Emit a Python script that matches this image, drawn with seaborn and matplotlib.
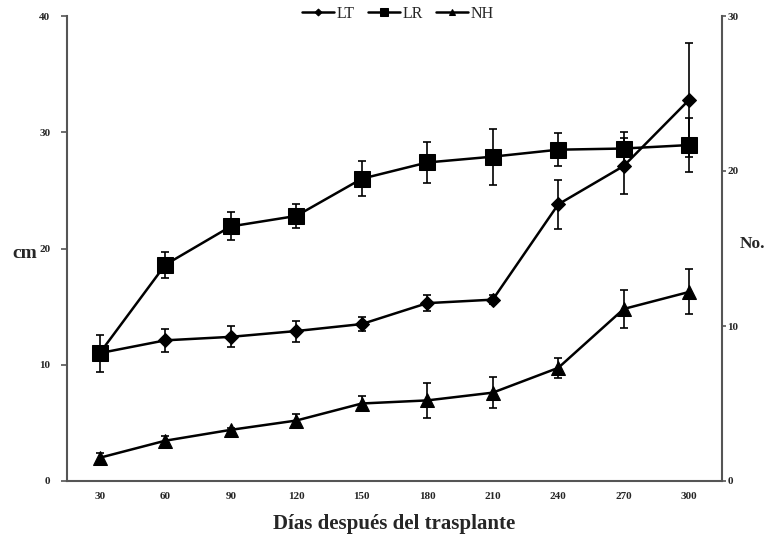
import numpy as np
import pandas as pd
import matplotlib
matplotlib.use("Agg")
import matplotlib.pyplot as plt
import seaborn as sns

days = ["30", "60", "90", "120", "150", "180", "210", "240", "270", "300"]
lt = [11.0, 12.1, 12.4, 12.9, 13.5, 15.3, 15.6, 23.8, 27.1, 32.8]
lt_err = [0.5, 1.0, 0.9, 0.9, 0.6, 0.7, 0.4, 2.1, 2.4, 4.9]
lr = [11.0, 18.6, 21.9, 22.8, 26.0, 27.4, 27.9, 28.5, 28.6, 28.9]
lr_err = [1.6, 1.1, 1.2, 1.0, 1.5, 1.8, 2.4, 1.4, 1.4, 2.3]
nh = [1.5, 2.6, 3.3, 3.9, 5.0, 5.2, 5.7, 7.3, 11.1, 12.2]
nh_err = [0.3, 0.3, 0.15, 0.45, 0.5, 1.15, 1.0, 0.65, 1.2, 1.45]

sns.set_style("white")
plt.rcParams["font.family"] = ["Liberation Serif", "DejaVu Serif"]

pos = np.arange(len(days))
df = pd.DataFrame({"pos": pos, "LT": lt, "LR": lr, "NH": nh})

fig = plt.figure(figsize=(7.74, 5.37), dpi=100)
ax = fig.add_axes([67/774, 1-481/537, (722-67)/774, (481-16)/537])
ax2 = ax.twinx()

lw = 1.8
sns.lineplot(data=df, x="pos", y="LT", ax=ax, color="black", marker="D",
             markersize=7, linewidth=lw, markeredgecolor="black", label="LT", legend=False)
sns.lineplot(data=df, x="pos", y="LR", ax=ax, color="black", marker="s",
             markersize=11, linewidth=lw, markeredgecolor="black", label="LR", legend=False)
sns.lineplot(data=df, x="pos", y="NH", ax=ax2, color="black", marker="^",
             markersize=10, linewidth=lw, markeredgecolor="black", label="NH", legend=False)

ekw = dict(fmt="none", ecolor="black", elinewidth=1.2, capsize=3, capthick=1.2)
ax.errorbar(pos, lt, yerr=lt_err, **ekw)
ax.errorbar(pos, lr, yerr=lr_err, **ekw)
ax2.errorbar(pos, nh, yerr=nh_err, **ekw)

ax.set_xlim(-0.5, len(days) - 0.5)
ax.set_ylim(0, 40)
ax2.set_ylim(0, 30)
ax.set_yticks([0, 10, 20, 30, 40])
ax2.set_yticks([0, 10, 20, 30])
ax.set_xticks(pos)
ax.set_xticklabels(days)
ax.set_xticks(np.arange(-0.5, len(days), 1.0), minor=True)

for a in (ax, ax2):
    a.spines["top"].set_visible(False)
    for s in a.spines.values():
        s.set_color("#555555")
        s.set_linewidth(1.5)
ax.spines["right"].set_visible(False)
ax2.spines["left"].set_visible(False)
ax2.spines["bottom"].set_visible(False)

ax.tick_params(axis="x", which="major", length=0, pad=8, labelsize=8)
ax.tick_params(axis="x", which="minor", length=4, direction="inout", width=1.2, color="#555555")
ax.tick_params(axis="y", length=4, direction="out", width=1.2, color="#555555",
               labelsize=8, left=True, pad=8)
ax2.tick_params(axis="y", length=3, direction="out", width=1.2, color="#555555",
                labelsize=8, right=True, pad=1)
for lab in ax.get_xticklabels() + ax.get_yticklabels() + ax2.get_yticklabels():
    lab.set_fontweight("bold")

ax.set_xlabel("Días después del trasplante", fontsize=15, fontweight="semibold", labelpad=9)
ax.set_ylabel("cm", fontsize=14, fontweight="bold", rotation=0, va="center", ha="center")
ax2.set_ylabel("No.", fontsize=12.5, fontweight="bold", rotation=0, va="center", ha="center")
ax.yaxis.set_label_coords(-0.064, 0.49)
ax2.yaxis.set_label_coords(1.047, 0.51)

h1, l1 = ax.get_legend_handles_labels()
h2, l2 = ax2.get_legend_handles_labels()
leg = fig.legend(h1 + h2, l1 + l2, loc="center", bbox_to_anchor=(398/774, 1-14/537),
                 ncol=3, frameon=False, fontsize=11.5, handlelength=2.0,
                 columnspacing=0.8, handletextpad=0.2, markerscale=0.5)

ax.grid(False)
ax2.grid(False)
fig.savefig("out.png", dpi=100, facecolor="white")
